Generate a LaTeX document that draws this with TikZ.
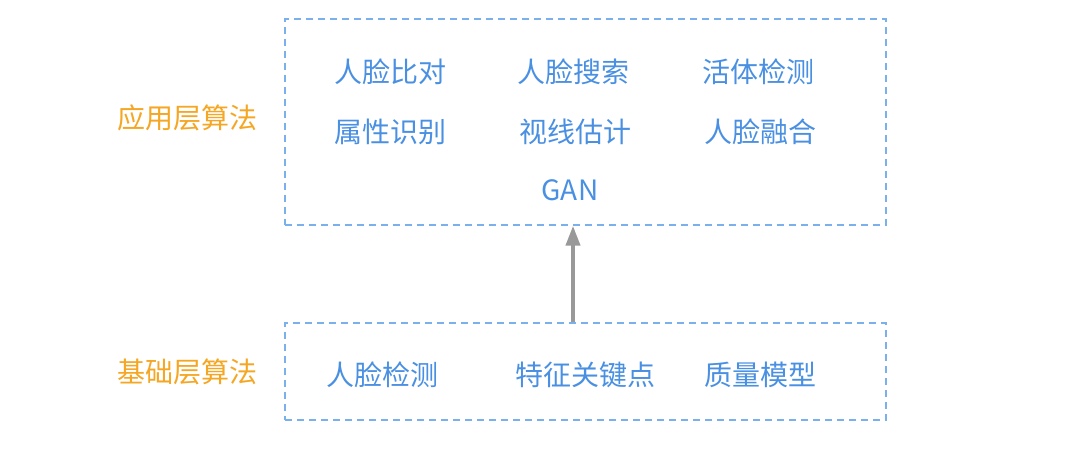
\documentclass[tikz,border=0pt]{standalone}
\usepackage{fontspec}
\setmainfont{Noto Sans CJK SC}
\usetikzlibrary{arrows.meta}
\definecolor{itemblue}{HTML}{4A90E2}
\definecolor{boxblue}{HTML}{7AB0EC}
\definecolor{labelorange}{HTML}{F5A623}
\definecolor{arrowgray}{HTML}{999999}
\tikzset{
  layerbox/.style={draw=boxblue, line width=1.4pt, dash pattern=on 7pt off 5pt},
  item/.style={text=itemblue, font=\fontsize{28}{32}\selectfont, inner sep=0pt},
  layerlabel/.style={text=labelorange, font=\fontsize{28}{32}\selectfont, inner sep=0pt},
  uparrow/.style={draw=arrowgray, line width=4pt, -{Triangle[length=20pt,width=14pt]}}
}
\begin{document}
\begin{tikzpicture}[x=1pt,y=-1pt]
\useasboundingbox (0,0) rectangle (1080,464);
\node[layerbox, minimum width=601pt, minimum height=206pt, inner sep=0pt] (top) at (585.5,122) {};
\node[layerbox, minimum width=601pt, minimum height=97pt, inner sep=0pt] (bot) at (585.5,371.5) {};
\node[layerlabel] (lapp) at (187.5,118) {应用层算法};
\node[layerlabel] (lbase) at (187.5,372) {基础层算法};
\node[item] (a1) at (390,72) {人脸比对};
\node[item] (a2) at (573,72) {人脸搜索};
\node[item] (a3) at (758,72) {活体检测};
\node[item] (b1) at (390,132) {属性识别};
\node[item] (b2) at (575,132) {视线估计};
\node[item] (b3) at (760,132) {人脸融合};
\node[item] (c1) at (570,190) {GAN};
\node[item] (d1) at (382,375) {人脸检测};
\node[item] (d2) at (585,375) {特征关键点};
\node[item] (d3) at (760,375) {质量模型};
\draw[uparrow] (bot.north -| 573,0) -- (top.south -| 573,0);
\end{tikzpicture}
\end{document}
